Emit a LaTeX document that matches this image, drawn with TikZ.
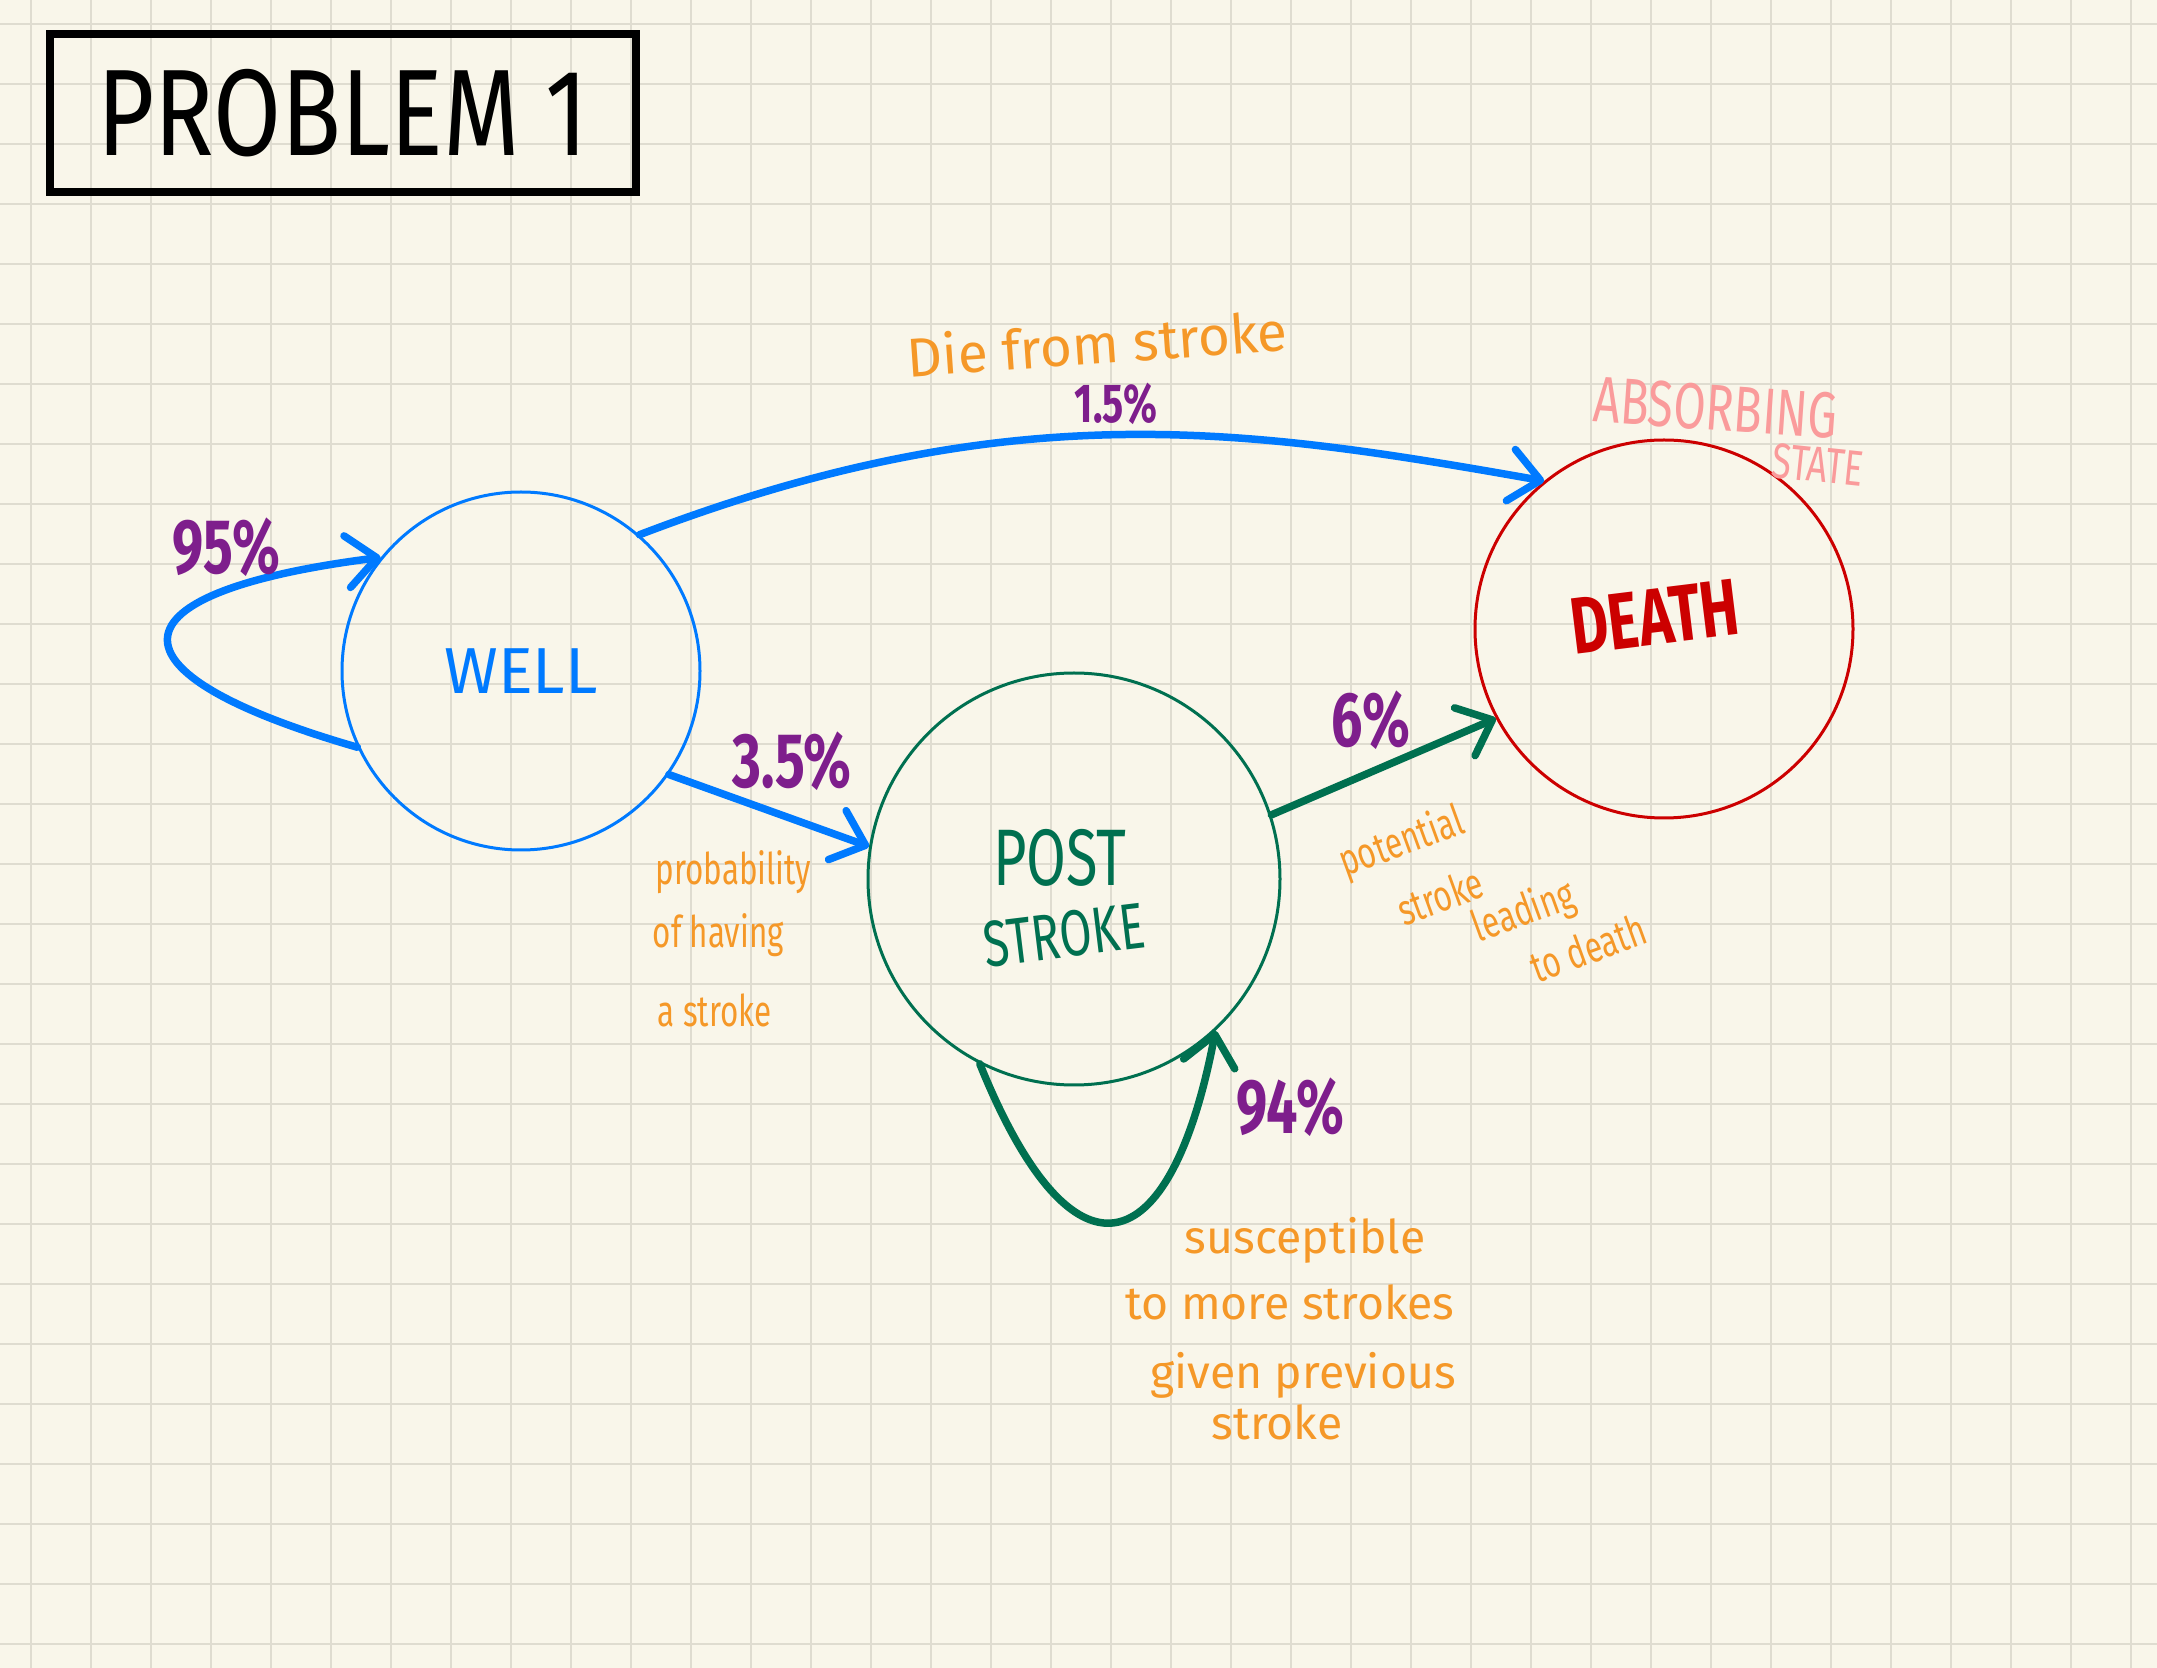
\documentclass[tikz,border=0pt]{standalone}
\usepackage{fontspec}
\setmainfont{Fira Sans}
\newfontfamily\narrowfont[FakeStretch=0.72]{Fira Sans}
\newfontfamily\titlefont[FakeStretch=0.8]{Fira Sans}
\usepackage{xcolor}
\usepackage{tikz}
\usetikzlibrary{arrows.meta}

\definecolor{paper}{RGB}{249,246,234}
\definecolor{gridgray}{RGB}{223,220,208}
\definecolor{wellblue}{RGB}{0,122,255}
\definecolor{postgreen}{RGB}{0,112,80}
\definecolor{deathred}{RGB}{204,0,0}
\definecolor{pctpurple}{RGB}{126,30,140}
\definecolor{noteorange}{RGB}{245,152,40}
\definecolor{absorbpink}{RGB}{250,155,155}

\begin{document}
\begin{tikzpicture}[x=0.1mm, y=-0.1mm]
    \tikzstyle{gridline} = [gridgray, line width=0.2mm]
    \tikzstyle{titlebox} = [rectangle, draw=black, line width=0.8mm, minimum width=58.6mm, minimum height=15.8mm, font=\titlefont\fontsize{35}{40}\selectfont]
    \tikzstyle{state} = [circle, line width=0.3mm, inner sep=0pt]
    \tikzstyle{statetext} = [inner sep=0pt, font=\narrowfont\fontsize{18.5}{20}\selectfont]
    \tikzstyle{pct} = [pctpurple, inner sep=0pt, font=\narrowfont\bfseries\fontsize{22}{24}\selectfont]
    \tikzstyle{note} = [noteorange, inner sep=0pt, font=\fontsize{13.2}{15}\selectfont]
    \tikzstyle{narrownote} = [noteorange, inner sep=0pt, font=\narrowfont\fontsize{12.4}{14}\selectfont]
    \tikzstyle{arrow} = [line width=0.75mm, line cap=round, -{Straight Barb[length=3mm, width=5.2mm, line cap=round, line join=round]}]

    % Paper and grid
    \fill[paper] (0,0) rectangle (2157,1668);
    \useasboundingbox (0,0) rectangle (2157,1668);
    \foreach \gx in {31,91,...,2131}
        \draw[gridline] (\gx,0) -- (\gx,1668);
    \foreach \gy in {24,84,...,1644}
        \draw[gridline] (0,\gy) -- (2157,\gy);

    % Title
    \node[titlebox] (title) at (343,113) {PROBLEM 1};

    % States
    \node[state, draw=wellblue, minimum size=35.8mm, text=wellblue, font=\fontsize{18.5}{20}\selectfont] (well) at (521,671) {WELL};
    \node[state, draw=postgreen, minimum size=41.2mm] (post) at (1074,879) {};
    \node[state, draw=deathred, minimum size=37.8mm] (death) at (1664,629) {};

    \node[statetext, postgreen, font=\narrowfont\fontsize{22.8}{24}\selectfont] (posttext) at (1060,858) {POST};
    \node[statetext, postgreen, rotate=7] (stroketext) at (1064,935) {STROKE};
    \node[statetext, deathred, rotate=7, font=\narrowfont\bfseries\fontsize{22.8}{24}\selectfont] (deathtext) at (1655,617) {DEATH};
    \node[statetext, absorbpink, rotate=-4] (absorbing) at (1716,408) {ABSORBING};
    \node[statetext, absorbpink, rotate=-6, font=\narrowfont\fontsize{14.2}{16}\selectfont] (absorbstate) at (1818,465) {STATE};

    % Transitions
    \draw[arrow, wellblue] (well.205) .. controls +(-260,-75) and +(-275,35) .. (well.141);
    \draw[arrow, wellblue] (well.49) .. controls +(374,-143) and +(-295,-52) .. (death.129);
    \draw[arrow, wellblue] (well.-35) -- (post.171);
    \draw[arrow, postgreen] (post.18) -- (death.208);
    \draw[arrow, postgreen] (post.243) .. controls +(93,230) and +(-45,235) .. (post.313);

    % Probabilities
    \node[pct] (pctwell) at (226,547) {95\%};
    \node[pct] (pctpost) at (792,761) {3.5\%};
    \node[pct, font=\narrowfont\bfseries\fontsize{15.6}{17}\selectfont] (pctdeath) at (1116,404) {1.5\%};
    \node[pct] (pctstroke) at (1371,720) {6\%};
    \node[pct] (pctagain) at (1290,1107) {94\%};

    % Notes
    \node[note, rotate=4, font=\fontsize{15.6}{17}\selectfont] (dienote) at (1097,343) {Die from stroke};

    \node[narrownote, anchor=base west] (probnote) at (655,885) {probability};
    \node[narrownote, anchor=base west] (havingnote) at (652,948) {of having};
    \node[narrownote, anchor=base west] (anote) at (657,1027) {a stroke};

    \node[narrownote, rotate=20] (potnote) at (1402,843) {potential};
    \node[narrownote, rotate=20] (strokenote) at (1440,896) {stroke};
    \node[narrownote, rotate=20] (leadnote) at (1524,913) {leading};
    \node[narrownote, rotate=20] (tonote) at (1588,948) {to death};

    \node[note] (suscnote) at (1305,1240) {susceptible};
    \node[note] (morenote) at (1290,1302) {to more strokes};
    \node[note] (givennote) at (1303,1375) {given previous};
    \node[note] (prevnote) at (1277,1422) {stroke};
\end{tikzpicture}
\end{document}
